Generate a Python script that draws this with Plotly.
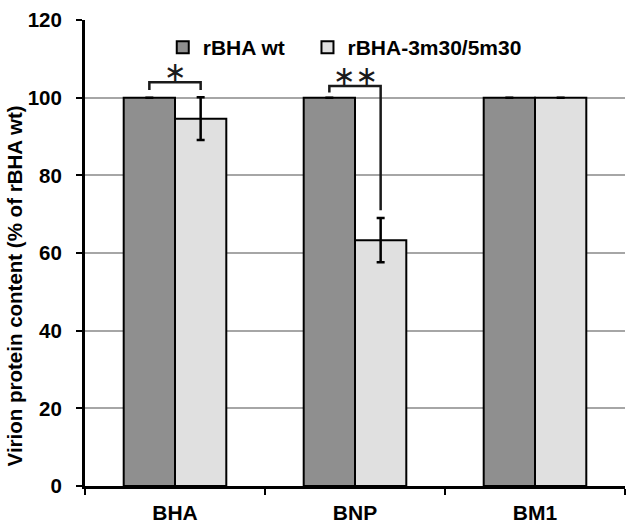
import plotly.graph_objects as go

# Viral proteins measured in purified virions
proteins = ["BHA", "BNP", "BM1"]

# Virion protein content, % of rBHA wt
wt_values = [100, 100, 100]
wt_err = [0, 0, 0]
mut_values = [94.6, 63.3, 100]
mut_err = [5.5, 5.7, 0]

series_names = ["rBHA wt", "rBHA-3m30/5m30"]
y_ticks = [0, 20, 40, 60, 80, 100, 120]

# Significance marks: (protein, label, bracket top, left-leg end, right-leg end)
significance = [
    ("BHA", "∗", 104, 102, 102),
    ("BNP", "∗∗", 103, 101.3, 71),
]

FONT = "Arial, Liberation Sans, sans-serif"
BARGAP = 0.43
LEGEND_FONT = dict(family=FONT, size=21, color="black", weight="bold")

fig = go.Figure()
fig.add_trace(go.Bar(
    x=proteins, y=wt_values, name=series_names[0], legend="legend",
    marker=dict(color="#8f8f8f", line=dict(color="black", width=2)),
    error_y=dict(type="data", array=wt_err, visible=True,
                 color="black", thickness=2.5, width=4),
))
fig.add_trace(go.Bar(
    x=proteins, y=mut_values, name=series_names[1], legend="legend2",
    marker=dict(color="#e0e0e0", line=dict(color="black", width=2)),
    error_y=dict(type="data", array=mut_err, visible=True,
                 color="black", thickness=2.5, width=4),
))

# bar centres inside each group, in category units
half = (1 - BARGAP) / 4
for prot, label, top, left_end, right_end in significance:
    i = proteins.index(prot)
    x0, x1 = i - half, i + half
    fig.add_shape(type="path", xref="x", yref="y",
                  path=f"M {x0},{left_end} L {x0},{top} L {x1},{top} L {x1},{right_end}",
                  line=dict(color="#1a1a1a", width=2.5))
    fig.add_annotation(x=i, y=top, xref="x", yref="y", text=label,
                       showarrow=False, yanchor="bottom", yshift=-7,
                       font=dict(family="DejaVu Sans, sans-serif", size=27, color="#1a1a1a"))

fig.add_annotation(
    text="Virion protein content (% of rBHA wt)",
    xref="paper", yref="paper", x=-0.13, y=0.43, xanchor="center", yanchor="middle",
    textangle=-90, showarrow=False,
    font=dict(family=FONT, size=20.5, color="black", weight="bold"),
)

fig.update_layout(
    width=626, height=525,
    margin=dict(l=85, r=1, t=20, b=39),
    paper_bgcolor="white", plot_bgcolor="white",
    barmode="group", bargap=BARGAP, bargroupgap=0,
    font=dict(family=FONT, color="black"),
    showlegend=True,
    legend=dict(orientation="h", x=0.144, y=0.985, xanchor="left", yanchor="top",
                font=LEGEND_FONT, bgcolor="rgba(0,0,0,0)"),
    legend2=dict(orientation="h", x=0.412, y=0.985, xanchor="left", yanchor="top",
                 font=LEGEND_FONT, bgcolor="rgba(0,0,0,0)"),
)
fig.update_xaxes(
    showline=True, linecolor="black", linewidth=3,
    ticks="outside", tickson="boundaries", ticklen=6, tickwidth=2, tickcolor="black",
    tickfont=dict(family=FONT, size=21, color="black", weight="bold"),
    ticklabelstandoff=6,
)
fig.update_yaxes(
    range=[0, 120], tickvals=y_ticks, showline=True, linecolor="black", linewidth=3,
    ticks="outside", ticklen=6, tickwidth=2, tickcolor="black",
    showgrid=True, gridcolor="#a6a6a6", gridwidth=2, zeroline=False,
    tickfont=dict(family=FONT, size=20.5, color="black", weight="bold"),
    ticklabelstandoff=10,
)

fig.write_html("out.html")
